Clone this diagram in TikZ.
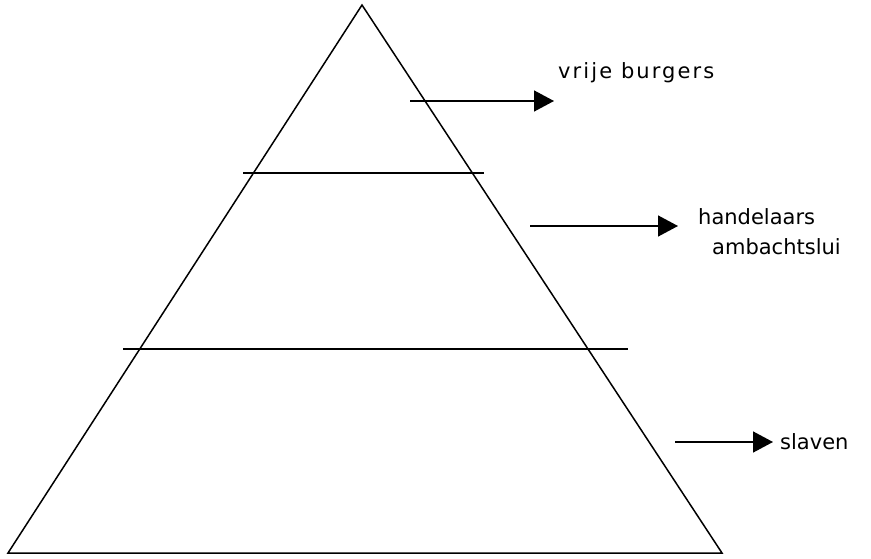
\documentclass[tikz,border=0pt]{standalone}
\usepackage{fontspec}
\setmainfont{DejaVu Sans}
\usetikzlibrary{arrows.meta}
\begin{document}
\begin{tikzpicture}[x=1pt,y=-1pt,
  edge/.style={line width=1.5pt},
  arr/.style={line width=1.5pt,-{Triangle[length=20pt,width=21pt]}},
  lbl/.style={anchor=west,inner sep=0pt,font=\fontsize{21}{24}\selectfont}]
\useasboundingbox (0,0) rectangle (871,559);
\coordinate (apex) at (362,5);
\coordinate (bl) at (8,553);
\coordinate (br) at (722,553);
\draw[edge] (bl) -- (apex) -- (br) -- cycle;
\coordinate (l1a) at (243,173);
\coordinate (l1b) at (484,173);
\draw[edge] (l1a) -- (l1b);
\coordinate (l2a) at (123,349);
\coordinate (l2b) at (628,349);
\draw[edge] (l2a) -- (l2b);
\coordinate (a1s) at (410,101);
\coordinate (a1e) at (554,101);
\draw[arr] (a1s) -- (a1e);
\coordinate (a2s) at (530,226);
\coordinate (a2e) at (678,226);
\draw[arr] (a2s) -- (a2e);
\coordinate (a3s) at (675,442);
\coordinate (a3e) at (773,442);
\draw[arr] (a3s) -- (a3e);
\node[lbl] (t1) at (558,73) {\addfontfeature{LetterSpace=10}vrije burgers};
\node[lbl] (t2) at (698,217) {handelaars};
\node[lbl] (t3) at (712,247) {ambachtslui};
\node[lbl] (t4) at (780,442) {slaven};
\end{tikzpicture}
\end{document}
